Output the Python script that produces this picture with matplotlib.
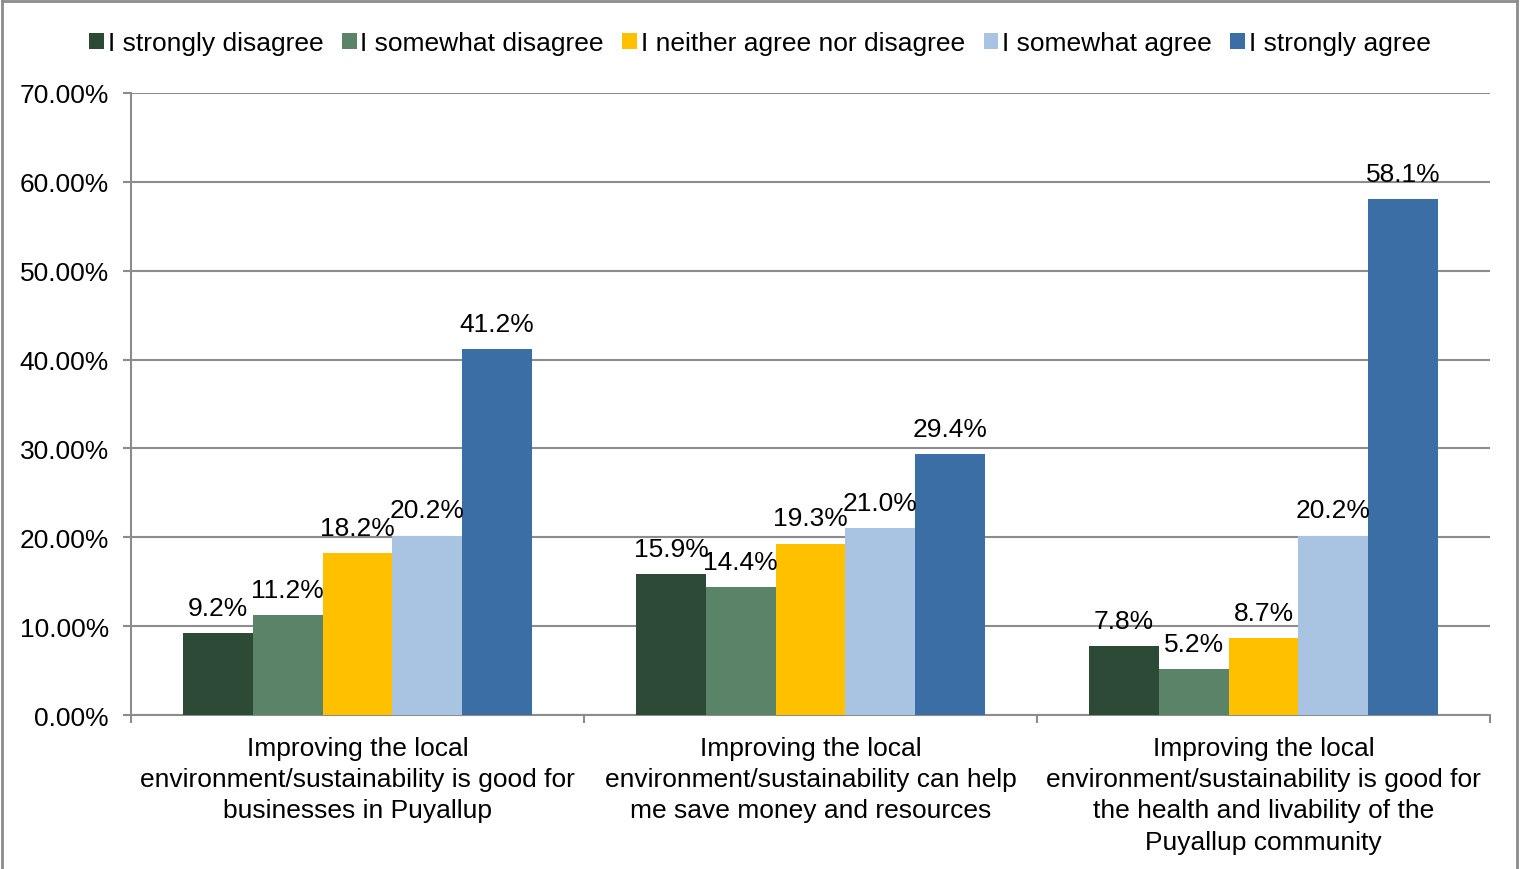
import matplotlib.pyplot as plt
import numpy as np
from matplotlib.lines import Line2D

categories = ['Improving the local\nenvironment/sustainability is good for\nbusinesses in Puyallup',
              'Improving the local\nenvironment/sustainability can help\nme save money and resources',
              'Improving the local\nenvironment/sustainability is good for\nthe health and livability of the\nPuyallup community']
series = ['I strongly disagree', 'I somewhat disagree', 'I neither agree nor disagree',
          'I somewhat agree', 'I strongly agree']
strongly_disagree = [9.2, 15.9, 7.8]
somewhat_disagree = [11.2, 14.4, 5.2]
neither = [18.2, 19.3, 8.7]
somewhat_agree = [20.2, 21.0, 20.2]
strongly_agree = [41.2, 29.4, 58.1]
values = [strongly_disagree, somewhat_disagree, neither, somewhat_agree, strongly_agree]
colors = ['#2D4A37', '#5A8368', '#FFC000', '#A9C4E2', '#3A6EA5']

plt.rcParams['font.family'] = ['Liberation Sans', 'DejaVu Sans']

fig = plt.figure(figsize=(15.2, 8.7), dpi=100)
ax = fig.add_axes([0.0862, 0.177, 0.8941, 0.715])

x = np.arange(len(categories))
w = 0.154
grid_c = '#8C8C8C'
for i, (vals, c) in enumerate(zip(values, colors)):
    bars = ax.bar(x + (i - 2) * w, vals, width=w, color=c, label=series[i], zorder=3)
    for b, v in zip(bars, vals):
        ax.annotate('%.1f%%' % v, (b.get_x() + b.get_width() / 2, v),
                    xytext=(0, 9.5), textcoords='offset points',
                    ha='center', va='bottom', fontsize=19, zorder=4)

ax.set_xlim(-0.5, 2.5)
ax.set_ylim(0, 70)
ax.set_yticks(np.arange(0, 71, 10))
ax.set_yticklabels(['%.2f%%' % t for t in np.arange(0, 71, 10)])
ax.yaxis.grid(True, color=grid_c, linewidth=1.5, zorder=0)
ax.set_xticks([-0.5, 0.5, 1.5, 2.5])
ax.set_xticklabels([])
ax.set_xticks(x, minor=True)
ax.set_xticklabels(categories, minor=True, fontsize=19, linespacing=1.38)
ax.tick_params(axis='x', which='minor', length=0, pad=15)
ax.tick_params(axis='x', which='major', length=6, width=1.5, color=grid_c)
ax.tick_params(axis='y', length=6, width=1.5, color=grid_c, labelsize=19, pad=10)
for s in ['top', 'right']:
    ax.spines[s].set_visible(False)
for s in ['left', 'bottom']:
    ax.spines[s].set_color(grid_c)
    ax.spines[s].set_linewidth(1.5)

ax.legend(loc='upper center', bbox_to_anchor=(0.5, 0.993), bbox_transform=fig.transFigure,
          ncol=5, frameon=False, fontsize=19, handlelength=0.55, handleheight=0.55,
          handletextpad=0.15, columnspacing=0.7, borderaxespad=0.6)

# outer frame of the chart
for xs, ys in [([0.001, 0.001], [0, 0.998]), ([0.001, 0.998], [0.998, 0.998]),
               ([0.998, 0.998], [0, 0.998])]:
    fig.add_artist(Line2D(xs, ys, color=grid_c, linewidth=2, transform=fig.transFigure))

fig.savefig('out.png', dpi=100)
